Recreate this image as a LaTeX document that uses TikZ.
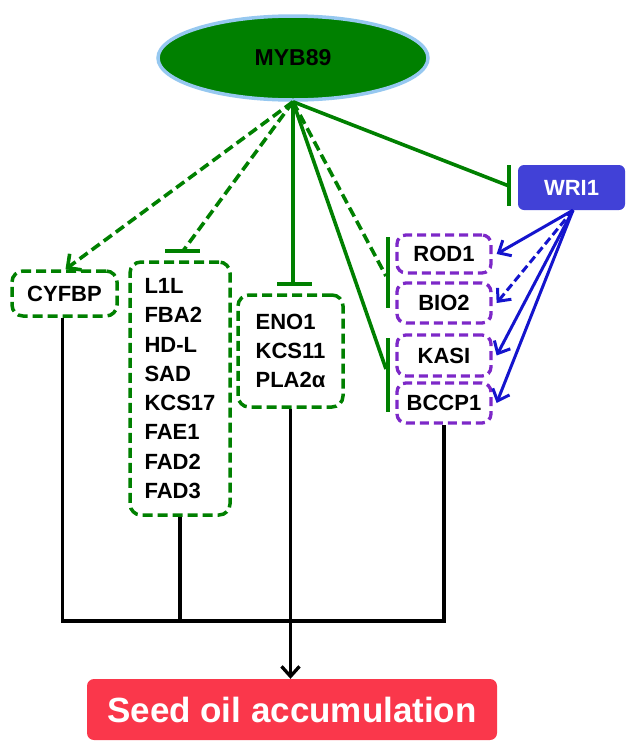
\documentclass[tikz,border=0pt]{standalone}
\usepackage{fontspec}
\setmainfont{Liberation Sans}
\usetikzlibrary{arrows.meta,shapes.geometric}

\definecolor{mybgreen}{RGB}{0,128,0}
\definecolor{glowblue}{RGB}{150,200,240}
\definecolor{wriblue}{RGB}{65,65,215}
\definecolor{arrblue}{RGB}{20,20,205}
\definecolor{genepurple}{RGB}{125,40,200}
\definecolor{seedred}{RGB}{250,55,75}

\tikzset{
  genefont/.style={font=\fontsize{22}{29.3}\selectfont\bfseries},
  greenbox/.style={draw=mybgreen, line width=3.5pt, dash pattern=on 10pt off 5pt,
                   rounded corners=11pt, genefont, align=left, inner sep=0pt},
  purplebox/.style={draw=genepurple, line width=3.3pt, dash pattern=on 9pt off 5pt,
                    rounded corners=9pt, genefont, minimum width=94pt, inner sep=0pt},
  gline/.style={draw=mybgreen, line width=3.6pt},
  gdash/.style={gline, dash pattern=on 10pt off 5pt},
  tbar/.style={draw=mybgreen, line width=3.6pt},
  bline/.style={draw=arrblue, line width=3pt, -{Straight Barb[length=10pt,width=18pt]}},
  kline/.style={draw=black, line width=3.3pt},
}

\begin{document}
\begin{tikzpicture}[x=1pt, y=-1pt]
\useasboundingbox (0,0) rectangle (626,742);

% regulator
\node[ellipse, fill=mybgreen, draw=glowblue, line width=3.5pt,
      minimum width=270pt, minimum height=84pt,
      font=\fontsize{23}{27}\selectfont\bfseries] (myb) at (293,58) {MYB89};

% WRI1 transcription factor
\node[fill=wriblue, rounded corners=6pt, text=white, minimum width=107pt,
      minimum height=45pt, font=\fontsize{22}{26}\selectfont\bfseries] (wri) at (571.5,187.5) {WRI1};

% target gene groups
\node[greenbox, minimum width=105pt, minimum height=45pt] (cyfbp) at (64.5,293.5) {CYFBP};
\node[greenbox, minimum width=100pt, minimum height=253pt] (l1l) at (180,388.5)
  {L1L\\FBA2\\HD-L\\SAD\\KCS17\\FAE1\\FAD2\\FAD3};
\node[greenbox, minimum width=105pt, minimum height=112pt] (eno) at (290.5,351)
  {ENO1\\KCS11\\PLA2α};

\node[purplebox, minimum height=38pt] (rod) at (444,254) {ROD1};
\node[purplebox, minimum height=40pt] (bio) at (444,303) {BIO2};
\node[purplebox, minimum height=41pt] (kasi) at (444,355.5) {KASI};
\node[purplebox, minimum height=40pt] (bccp) at (444,403) {BCCP1};

% phenotype
\node[fill=seedred, rounded corners=7pt, text=white, minimum width=410pt,
      minimum height=61pt, font=\fontsize{35}{40}\selectfont\bfseries] (seed) at (292,709.5)
  {Seed oil accumulation};

% inhibition bar positions
\coordinate (l1lbar) at (183,251);
\coordinate (enobar) at (293,284);
\coordinate (rbbar) at (386,276);
\coordinate (kbbar) at (386,369);
\coordinate (wribar) at (509,186);

% MYB89 edges
\draw[gdash, -{Straight Barb[length=10pt,width=20pt]}] (myb.south) -- ([xshift=1pt]cyfbp.north);
\draw[gdash] (myb.south) -- (l1lbar);
\draw[tbar] (165,251) -- (200,251);
\draw[gline] (myb.south) -- (enobar);
\draw[tbar] (277,284) -- (312,284);
\draw[gdash] (myb.south) -- (rbbar);
\draw[tbar] (388,237) -- (388,308);
\draw[gline] (myb.south) -- (kbbar);
\draw[tbar] (388,338) -- (388,412);
\draw[gline] (myb.south) -- (wribar);
\draw[tbar] (509,165) -- (509,206);

% WRI1 edges
\draw[bline] ([xshift=1.5pt]wri.south) -- ([xshift=4pt]rod.east);
\draw[bline, dash pattern=on 8pt off 4pt] ([xshift=1.5pt]wri.south) -- ([xshift=4pt]bio.east);
\draw[bline] ([xshift=1.5pt]wri.south) -- ([xshift=4pt]kasi.east);
\draw[bline] ([xshift=1.5pt]wri.south) -- ([xshift=4pt]bccp.east);

% convergence onto seed oil
\coordinate (join) at (290,621);
\draw[kline] ([xshift=-2pt]cyfbp.south) -- ([xshift=-2pt]cyfbp.south |- join)
  -- (bccp.south |- join) -- (bccp.south);
\draw[kline] (l1l.south) -- (l1l.south |- join);
\draw[kline, -{Straight Barb[length=10pt,width=18pt]}] (eno.south) -- (eno.south |- seed.north);
\end{tikzpicture}
\end{document}
